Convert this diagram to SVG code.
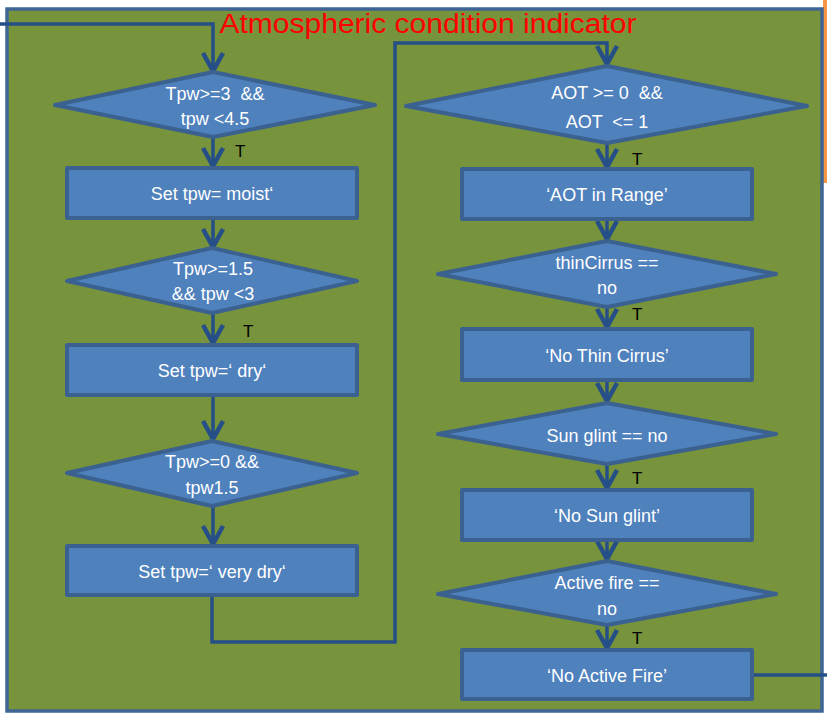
<svg xmlns="http://www.w3.org/2000/svg" width="827" height="713" viewBox="0 0 827 713">
  <style>
    .dec { fill: #4f81bd; stroke: #3b6190; stroke-width: 4; stroke-linejoin: round; }
    .box { fill: #4f81bd; stroke: #3b6190; stroke-width: 4; stroke-linejoin: round; }
    .lbl { font-family: "Liberation Sans", Arial, sans-serif; font-size: 18px; fill: #ffffff; text-anchor: middle; white-space: pre; }
    .t { font-family: "Liberation Sans", Arial, sans-serif; font-size: 17px; fill: #000000; }
    .wire { fill: none; stroke: #264f87; stroke-width: 3.5; }
  </style>
  <defs>
    <marker id="chev" markerUnits="userSpaceOnUse" viewBox="-24 -15 30 30" markerWidth="30" markerHeight="30" refX="0" refY="0" orient="auto">
      <path d="M -18 -10 L 0 0 L -18 10" fill="none" stroke="#264f87" stroke-width="4.5" stroke-linejoin="miter"/>
    </marker>
  </defs>

  <!-- background panel -->
  <rect x="0" y="0" width="827" height="713" fill="#ffffff"/>
  <rect x="823" y="0" width="4" height="183" fill="#f79646"/>
  <rect x="7" y="9" width="815" height="702" fill="#77933c" stroke="#3e6594" stroke-width="3.5"/>

  <text x="428" y="33" font-family="Liberation Sans, Arial, sans-serif" font-size="27" fill="#ff0000" text-anchor="middle" textLength="417" lengthAdjust="spacingAndGlyphs">Atmospheric condition indicator</text>

  <!-- connectors -->
  <g id="connectors">
    <path class="wire" d="M 0 24 L 213 24 L 213 71" marker-end="url(#chev)"/>
    <path class="wire" d="M 213 138 L 213 166" marker-end="url(#chev)"/>
    <path class="wire" d="M 213 219 L 213 247" marker-end="url(#chev)"/>
    <path class="wire" d="M 213 314 L 213 343" marker-end="url(#chev)"/>
    <path class="wire" d="M 213 396 L 213 439" marker-end="url(#chev)"/>
    <path class="wire" d="M 213 507 L 213 544" marker-end="url(#chev)"/>
    <path class="wire" d="M 212 596 L 212 642 L 395 642 L 395 43 L 607 43 L 607 64" marker-end="url(#chev)"/>
    <path class="wire" d="M 607 144 L 607 167" marker-end="url(#chev)"/>
    <path class="wire" d="M 607 221 L 607 239" marker-end="url(#chev)"/>
    <path class="wire" d="M 607 308 L 607 327" marker-end="url(#chev)"/>
    <path class="wire" d="M 607 381 L 607 401" marker-end="url(#chev)"/>
    <path class="wire" d="M 607 465 L 607 488" marker-end="url(#chev)"/>
    <path class="wire" d="M 607 541 L 607 559" marker-end="url(#chev)"/>
    <path class="wire" d="M 607 626 L 607 648" marker-end="url(#chev)"/>
    <path class="wire" d="M 754 675 L 827 675"/>
    <text class="t" x="235" y="157">T</text>
    <text class="t" x="243" y="337">T</text>
    <text class="t" x="632" y="165">T</text>
    <text class="t" x="632" y="320">T</text>
    <text class="t" x="632" y="484">T</text>
    <text class="t" x="632" y="644">T</text>
  </g>

  <!-- left column -->
  <g id="d-tpw-moist">
    <polygon class="dec" points="213,72 375,105 213,137 55,105"/>
    <text class="lbl" x="215" y="100">Tpw&gt;=3  &amp;&amp;</text>
    <text class="lbl" x="215" y="125">tpw &lt;4.5</text>
  </g>
  <g id="b-moist">
    <rect class="box" x="67" y="168" width="290" height="50"/>
    <text class="lbl" x="212" y="200">Set tpw= moist‘</text>
  </g>
  <g id="d-tpw-dry">
    <polygon class="dec" points="212,248 357,281 212,313 67,281"/>
    <text class="lbl" x="213" y="275">Tpw&gt;=1.5</text>
    <text class="lbl" x="213" y="300">&amp;&amp; tpw &lt;3</text>
  </g>
  <g id="b-dry">
    <rect class="box" x="67" y="345" width="290" height="50"/>
    <text class="lbl" x="212" y="377">Set tpw=‘ dry‘</text>
  </g>
  <g id="d-tpw-verydry">
    <polygon class="dec" points="212,441 357,473 212,506 67,473"/>
    <text class="lbl" x="212" y="468">Tpw&gt;=0 &amp;&amp;</text>
    <text class="lbl" x="212" y="494">tpw1.5</text>
  </g>
  <g id="b-verydry">
    <rect class="box" x="67" y="546" width="290" height="49"/>
    <text class="lbl" x="212" y="578">Set tpw=‘ very dry‘</text>
  </g>

  <!-- right column -->
  <g id="d-aot">
    <polygon class="dec" points="607,66 807,106 607,143 406,106"/>
    <text class="lbl" x="607" y="99">AOT &gt;= 0  &amp;&amp;</text>
    <text class="lbl" x="607" y="128">AOT  &lt;= 1</text>
  </g>
  <g id="b-aot">
    <rect class="box" x="462" y="169" width="290" height="50"/>
    <text class="lbl" x="607" y="201">‘AOT in Range’</text>
  </g>
  <g id="d-cirrus">
    <polygon class="dec" points="607,241 776,274 607,307 438,274"/>
    <text class="lbl" x="607" y="269">thinCirrus ==</text>
    <text class="lbl" x="607" y="294">no</text>
  </g>
  <g id="b-cirrus">
    <rect class="box" x="462" y="329" width="290" height="51"/>
    <text class="lbl" x="607" y="362">‘No Thin Cirrus’</text>
  </g>
  <g id="d-glint">
    <polygon class="dec" points="607,403 776,434 607,464 438,434"/>
    <text class="lbl" x="607" y="442">Sun glint == no</text>
  </g>
  <g id="b-glint">
    <rect class="box" x="462" y="490" width="290" height="50"/>
    <text class="lbl" x="607" y="522">‘No Sun glint’</text>
  </g>
  <g id="d-fire">
    <polygon class="dec" points="607,561 776,594 607,625 438,594"/>
    <text class="lbl" x="607" y="589">Active fire ==</text>
    <text class="lbl" x="607" y="615">no</text>
  </g>
  <g id="b-fire">
    <rect class="box" x="462" y="650" width="290" height="49"/>
    <text class="lbl" x="607" y="682">‘No Active Fire’</text>
  </g>
</svg>
